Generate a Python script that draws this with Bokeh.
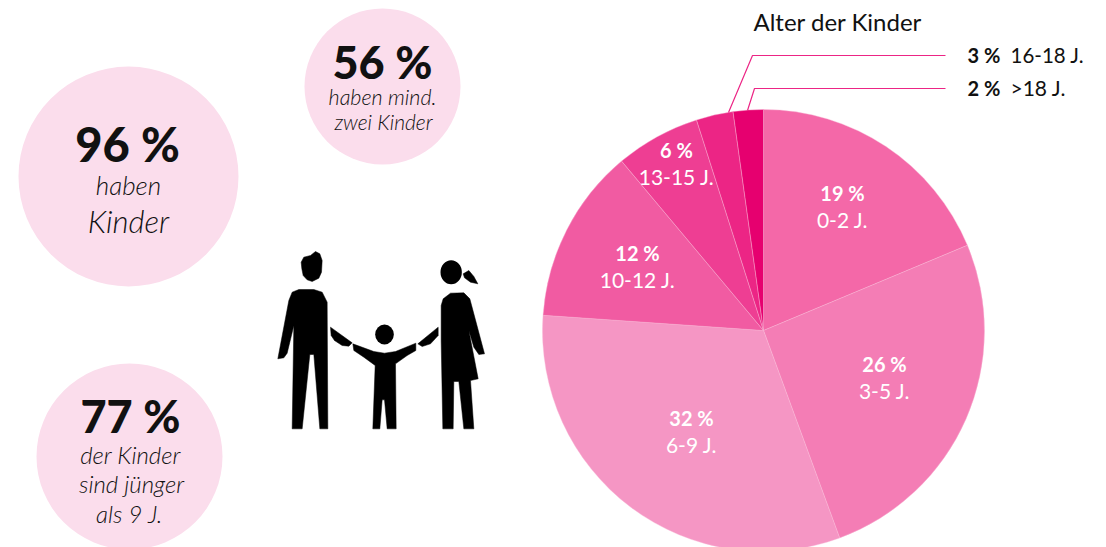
from bokeh.plotting import figure
from bokeh.models import Range1d
from bokeh.core.properties import value
from bokeh.embed import file_html
from bokeh.resources import INLINE
import math

# ---- data ----
age_groups = ["0-2 J.", "3-5 J.", "6-9 J.", "10-12 J.", "13-15 J.", "16-18 J.", ">18 J."]
percent_labels = ["19 %", "26 %", "32 %", "12 %", "6 %", "3 %", "2 %"]
slice_shares = [18.7, 25.7, 31.7, 12.8, 6.2, 2.7, 2.2]
slice_colors = ["#F468A8", "#F47DB5", "#F596C4", "#F15BA2", "#EE3E93", "#EC2585", "#E6006F"]

W, H = 1106, 547
def Y(v):
    return 547 - v

p = figure(width=W, height=H, output_backend="svg", toolbar_location=None,
           x_range=Range1d(0, 1106), y_range=Range1d(0, 547), min_border=0,
           outline_line_color=None, background_fill_color=None, border_fill_color=None)
p.axis.visible = False
p.grid.visible = False

SANS = "Lato"
BLACK = "#111111"
PINK_BG = "#FBDDEC"

# ---- bubbles ----
p.circle(x=[128, 382, 129], y=[Y(176), Y(86), Y(456)], radius=[110, 78, 93],
         fill_color=PINK_BG, line_color=None)

# ---- pie ----
cx, cy, r = 763, Y(330), 221
start = math.pi / 2
starts, ends = [], []
for s in slice_shares:
    a = s / 100 * 2 * math.pi
    starts.append(start)
    ends.append(start - a)
    start -= a
p.wedge(x=[cx] * 7, y=[cy] * 7, radius=r, start_angle=starts, end_angle=ends,
        direction="clock", fill_color=slice_colors, line_color="#F9B8D6", line_width=0.4)

def txt(x, y, s, size, style="normal", color=BLACK, font=SANS, align="center"):
    p.text(x=[x], y=[Y(y)], text=[s], text_font=value(font), text_font_size=f"{size}px",
           text_font_style=style, text_color=color, text_align=align, text_baseline="middle")

# labels inside pie
inside_pos = [(842, 192, 219), (884, 363, 390), (691, 417, 444), (637, 252, 279), (676, 149, 176)]
for i, (x, y1, y2) in enumerate(inside_pos):
    txt(x, y1, percent_labels[i], 20, "bold", "white")
    txt(x, y2, age_groups[i], 21, "normal", "white")

# leader lines
lead_x = [[728, 752, 945], [747, 754, 945]]
lead_y = [[Y(112), Y(55), Y(55)], [Y(110), Y(88), Y(88)]]
p.multi_line(xs=lead_x, ys=lead_y, line_color="#EC2585", line_width=1.2)

txt(753, 21, "Alter der Kinder", 24, align="left")
txt(967, 54, percent_labels[5], 20, "bold", align="left")
txt(1010, 54, age_groups[5], 20.5, align="left")
txt(967, 87, percent_labels[6], 20, "bold", align="left")
txt(1010, 87, age_groups[6], 21, align="left")

# bubble texts
LIGHT = "Lato Light"
HEAVY = "Lato Black"
txt(127, 143, "96 %", 47, font=HEAVY)
txt(128, 184, "haben", 26, "italic", font=LIGHT)
txt(128, 220, "Kinder", 31, "italic", font=LIGHT)
txt(382, 61, "56 %", 45, font=HEAVY)
txt(382, 96, "haben mind.", 21.5, "italic", font=LIGHT)
txt(383, 121, "zwei Kinder", 21, "italic", font=LIGHT)
txt(130, 415, "77 %", 45, font=HEAVY)
txt(130, 454, "der Kinder", 24, "italic", font=LIGHT)
txt(131, 483, "sind jünger", 24, "italic", font=LIGHT)
txt(129, 513, "als 9 J.", 24, "italic", font=LIGHT)

# ---- family pictogram (outline in 3x zoom units, offset 260/240) ----
def zx(L): return [260 + a / 3 for a, _ in L]
def zy(L): return [Y(240 + b / 3) for _, b in L]
shapes = [
    # man head
    [(122,65),(130,50),(150,45),(165,33),(178,40),(185,60),(183,95),(175,113),(155,123),(140,118),(128,105),(124,85)],
    # man body
    [(85,180),(95,155),(115,147),(160,147),(185,155),(200,185),(202,565),(178,565),(160,342),(148,342),(125,565),(95,565),(100,255),(80,338),(70,352),(52,355)],
    # man arm
    [(210,260),(275,307),(265,317),(245,315),(222,300),(212,285)],
    # child body
    [(277,310),(340,333),(372,338),(405,333),(466,308),(466,330),(440,345),(405,370),(407,565),(380,565),(372,478),(365,478),(358,565),(337,565),(344,375),(310,350),(280,330)],
    # woman ponytail
    [(608,100),(625,90),(640,108),(652,130),(630,125),(612,112)],
    # woman body
    [(542,195),(548,175),(570,158),(610,157),(628,175),(672,340),(655,342),(640,320),(625,270),(653,415),(630,420),(640,565),(610,565),(595,423),(580,423),(578,565),(547,565),(542,300)],
    # woman arm
    [(533,260),(533,285),(510,310),(485,318),(472,310)],
]
p.patches(xs=[zx(s) for s in shapes], ys=[zy(s) for s in shapes], fill_color="black", line_color="black", line_width=0.5)
p.ellipse(x=[260 + 372/3, 260 + 572/3], y=[Y(240 + 282/3), Y(240 + 95/3)],
          width=[56/3, 64/3], height=[60/3, 72/3], fill_color="black", line_color=None)

open("out.html", "w").write(file_html(p, INLINE))
